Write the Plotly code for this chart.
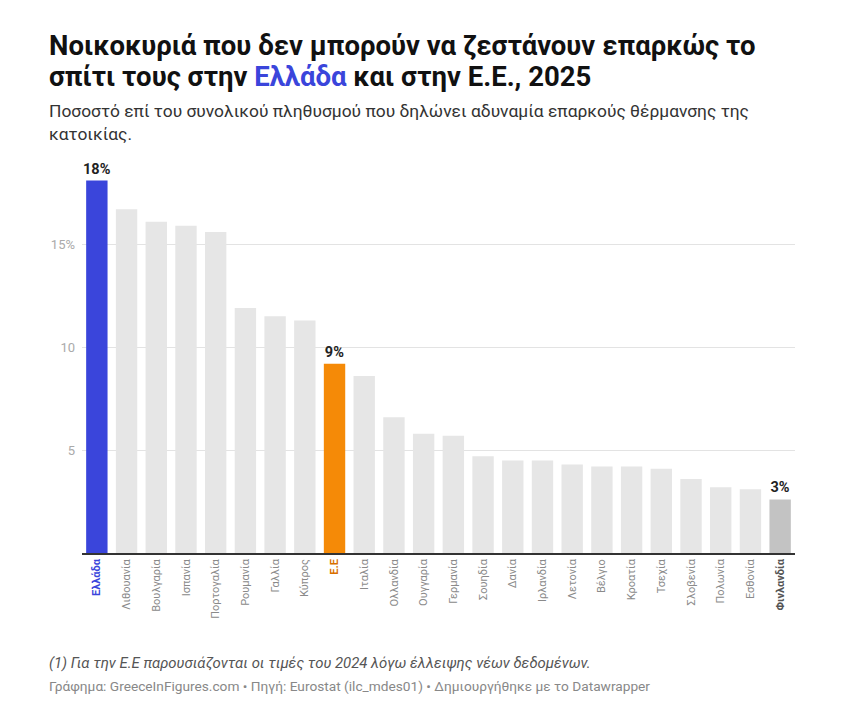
import plotly.graph_objects as go

# δεδομένα (Eurostat ilc_mdes01)
countries = ['Ελλάδα', 'Λιθουανία', 'Βουλγαρία', 'Ισπανία', 'Πορτογαλία',
             'Ρουμανία', 'Γαλλία', 'Κύπρος', 'Ε.Ε', 'Ιταλία', 'Ολλανδία',
             'Ουγγαρία', 'Γερμανία', 'Σουηδία', 'Δανία', 'Ιρλανδία', 'Λετονία',
             'Βέλγιο', 'Κροατία', 'Τσεχία', 'Σλοβενία', 'Πολωνία', 'Εσθονία',
             'Φινλανδία']
values = [18.1, 16.7, 16.1, 15.9, 15.6, 11.9, 11.5, 11.3, 9.2, 8.6, 6.6,
          5.8, 5.7, 4.7, 4.5, 4.5, 4.3, 4.2, 4.2, 4.1, 3.6, 3.2, 3.1, 2.6]
y_ticks = [5, 10, 15]
y_ticklabels = ['5', '10', '15%']

highlight = {'Ελλάδα': '#3a45db', 'Ε.Ε': '#f58a07', 'Φινλανδία': '#c3c3c3'}
label_colors = {'Ελλάδα': '#3a45db', 'Ε.Ε': '#d86f00', 'Φινλανδία': '#555555'}

colors = [highlight.get(c, '#e6e6e6') for c in countries]
texts = [f"{round(v)}%" if c in highlight else "" for c, v in zip(countries, values)]
ticktext = [f"<b><span style='color:{label_colors[c]}'>{c}</span></b>" if c in label_colors else c
            for c in countries]

# η σελίδα έχει περιθώριο 8px, οπότε μετράμε σε pixel της εικόνας αναφοράς
OFF = 8
L, T, PW, PH = 82 - OFF, 162 - OFF, 713, 391


def px(x):
    return (x - OFF - L) / PW


def py(y):
    return (T + PH - (y - OFF)) / PH


fig = go.Figure(go.Bar(
    x=countries, y=values,
    marker=dict(color=colors, line_width=0),
    text=texts, textposition='outside', cliponaxis=False, constraintext='none',
    textfont=dict(family='Roboto', size=14.5, color='#222222', weight=700),
    hoverinfo='skip',
))


def note(text, x, y, size, color, weight=400, anchor='middle'):
    return dict(text=text, xref='paper', yref='paper', x=px(x), y=py(y),
                xanchor='left', yanchor=anchor, align='left', showarrow=False,
                font=dict(family='Roboto', size=size, color=color, weight=weight))


fig.update_layout(
    width=844, height=701,
    margin=dict(l=L, r=844 - L - PW, t=T, b=701 - T - PH),
    paper_bgcolor='white', plot_bgcolor='white',
    font=dict(family='Roboto', color='#333333'),
    bargap=0.28,
    showlegend=False,
    xaxis=dict(
        tickangle=-90, tickmode='array', tickvals=countries, ticktext=ticktext,
        tickfont=dict(size=11, color='#8a8a8a'),
        showline=True, linecolor='#333333', linewidth=1.5,
        showgrid=False, ticks='',
    ),
    yaxis=dict(
        range=[0, 19], tickvals=y_ticks, ticktext=y_ticklabels,
        tickfont=dict(size=13, color='#aaaaaa'),
        showgrid=True, gridcolor='#e3e3e3', gridwidth=1,
        zeroline=False, ticks='', ticklabelstandoff=6,
    ),
    annotations=[
        note("Νοικοκυριά που δεν μπορούν να ζεστάνουν επαρκώς το",
             47, 45, 27.5, '#111111', 700),
        note("σπίτι τους στην <span style='color:#3a45db'>Ελλάδα</span> και στην Ε.Ε., 2025",
             47, 76, 27.5, '#111111', 700),
        note("Ποσοστό επί του συνολικού πληθυσμού που δηλώνει αδυναμία επαρκούς θέρμανσης της<br>κατοικίας.",
             47, 123, 17.4, '#333333'),
        note("<i>(1) Για την Ε.Ε παρουσιάζονται οι τιμές του 2024 λόγω έλλειψης νέων δεδομένων.</i>",
             47, 663, 14.9, '#555555'),
        note("Γράφημα: GreeceInFigures.com • Πηγή: Eurostat (ilc_mdes01) • Δημιουργήθηκε με το Datawrapper",
             47, 686, 13.7, '#888888'),
    ],
)

fig.write_html("out.html")
